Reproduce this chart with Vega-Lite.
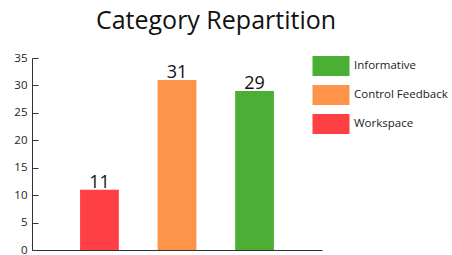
{
  "$schema": "https://vega.github.io/schema/vega-lite/v6.json",
  "width": 290,
  "height": 192,
  "autosize": {"type": "none"},
  "padding": {"left": 32, "top": 58, "right": 130, "bottom": 5},
  "background": "white",
  "title": {
    "text": "Category Repartition",
    "font": "Open Sans",
    "fontSize": 25,
    "fontWeight": "normal",
    "color": "#111111",
    "anchor": "middle",
    "dx": 39,
    "dy": 24,
    "offset": 22,
    "baseline": "alphabetic"
  },
  "config": {
    "view": {"stroke": null},
    "font": "Open Sans"
  },
  "data": {
    "values": [
      {"category": "Workspace", "count": 11},
      {"category": "Control Feedback", "count": 31},
      {"category": "Informative", "count": 29}
    ]
  },
  "encoding": {
    "x": {
      "field": "category",
      "type": "nominal",
      "sort": ["Workspace", "Control Feedback", "Informative"],
      "scale": {"paddingInner": 0.5, "paddingOuter": 0.62},
      "axis": {
        "title": null,
        "labels": false,
        "ticks": false,
        "domainColor": "#333333",
        "domainWidth": 1
      }
    },
    "y": {
      "field": "count",
      "type": "quantitative",
      "scale": {"domain": [0, 35], "nice": false},
      "axis": {
        "title": null,
        "values": [0, 5, 10, 15, 20, 25, 30, 35],
        "grid": false,
        "tickSize": -6,
        "tickColor": "#333333",
        "domainColor": "#333333",
        "labelFont": "Open Sans",
        "labelFontSize": 11.5,
        "labelColor": "#222222",
        "labelPadding": 11
      }
    }
  },
  "layer": [
    {
      "mark": {"type": "bar"},
      "encoding": {
        "color": {
          "field": "category",
          "type": "nominal",
          "scale": {
            "domain": ["Informative", "Control Feedback", "Workspace"],
            "range": ["#4caf35", "#fe9449", "#fe4044"]
          },
          "legend": {
            "title": null,
            "orient": "none",
            "legendX": 289,
            "legendY": -2,
            "symbolType": "M-1.85,-1H1.85V1H-1.85Z",
            "symbolSize": 400,
            "symbolStrokeWidth": 0,
            "symbolOpacity": 1,
            "labelOffset": 13,
            "rowPadding": 9,
            "labelFont": "Open Sans",
            "labelFontSize": 11.5,
            "labelColor": "#222222"
          }
        }
      }
    },
    {
      "mark": {"type": "text", "baseline": "alphabetic", "dy": -2, "fontSize": 18, "font": "Open Sans", "color": "#111111"},
      "encoding": {
        "text": {"field": "count", "type": "quantitative"}
      }
    }
  ]
}
